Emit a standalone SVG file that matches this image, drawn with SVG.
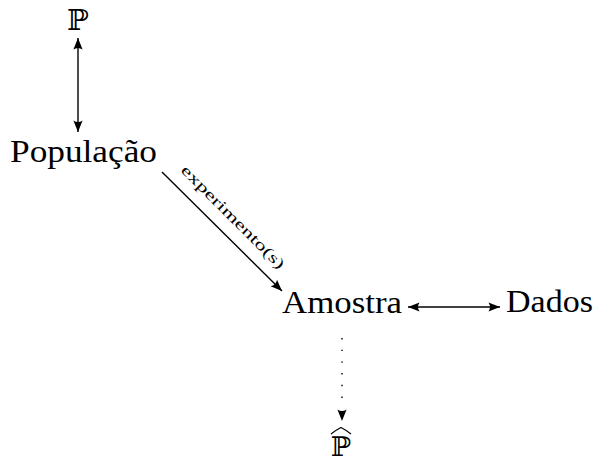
<svg xmlns="http://www.w3.org/2000/svg" width="598" height="463" viewBox="0 0 598 463">
<style>
.t{font-family:"Liberation Serif","DejaVu Serif",serif;font-size:31px;fill:#000}
.bb{font-family:"DejaVu Serif","DejaVu Sans",serif;font-size:29px;fill:#000}
.lbl{font-family:"Liberation Serif","DejaVu Serif",serif;font-size:15px;fill:#000}
.c{stroke:#000;stroke-width:1.4;fill:none}
</style>
<defs>
<marker id="ah" viewBox="-12 -5 13 10" refX="0" refY="0" markerWidth="13" markerHeight="10" markerUnits="userSpaceOnUse" orient="auto-start-reverse">
<path d="M0,0 L-11.5,-4.6 Q-8.5,0 -11.5,4.6 Z" fill="#000"/>
</marker>
</defs>
<rect width="598" height="463" fill="#fff"/>
<g id="nodeP"><text class="bb" x="78" y="30" text-anchor="middle">ℙ</text></g>
<g id="nodePop"><text class="t" x="10" y="162" textLength="147" lengthAdjust="spacingAndGlyphs">População</text></g>
<g id="nodeAmostra"><text class="t" x="282" y="313" textLength="120" lengthAdjust="spacingAndGlyphs">Amostra</text></g>
<g id="nodeDados"><text class="t" x="506" y="312" textLength="87" lengthAdjust="spacingAndGlyphs">Dados</text></g>
<g id="nodePhat"><text class="bb" x="341" y="456" text-anchor="middle" style="font-size:27px">ℙ</text><path d="M331,434 Q336,430 341,427.5 Q346,430 351,434" fill="none" stroke="#000" stroke-width="1.2"/></g>
<g id="connectors">
<line class="c" x1="78" y1="38" x2="78" y2="132" marker-start="url(#ah)" marker-end="url(#ah)"/>
<line class="c" x1="162" y1="172" x2="282" y2="291" marker-end="url(#ah)"/>
<text class="lbl" transform="translate(233 217) rotate(45)" x="0" y="5" text-anchor="middle" textLength="140" lengthAdjust="spacingAndGlyphs">experimento(s)</text>
<line class="c" x1="408" y1="307" x2="500" y2="307" marker-start="url(#ah)" marker-end="url(#ah)"/>
<line class="c" x1="342" y1="338" x2="342" y2="407" stroke-dasharray="1.4 10.3" stroke-linecap="butt"/>
<line x1="342" y1="407" x2="342" y2="421" stroke="none" marker-end="url(#ah)"/>
</g>
</svg>
